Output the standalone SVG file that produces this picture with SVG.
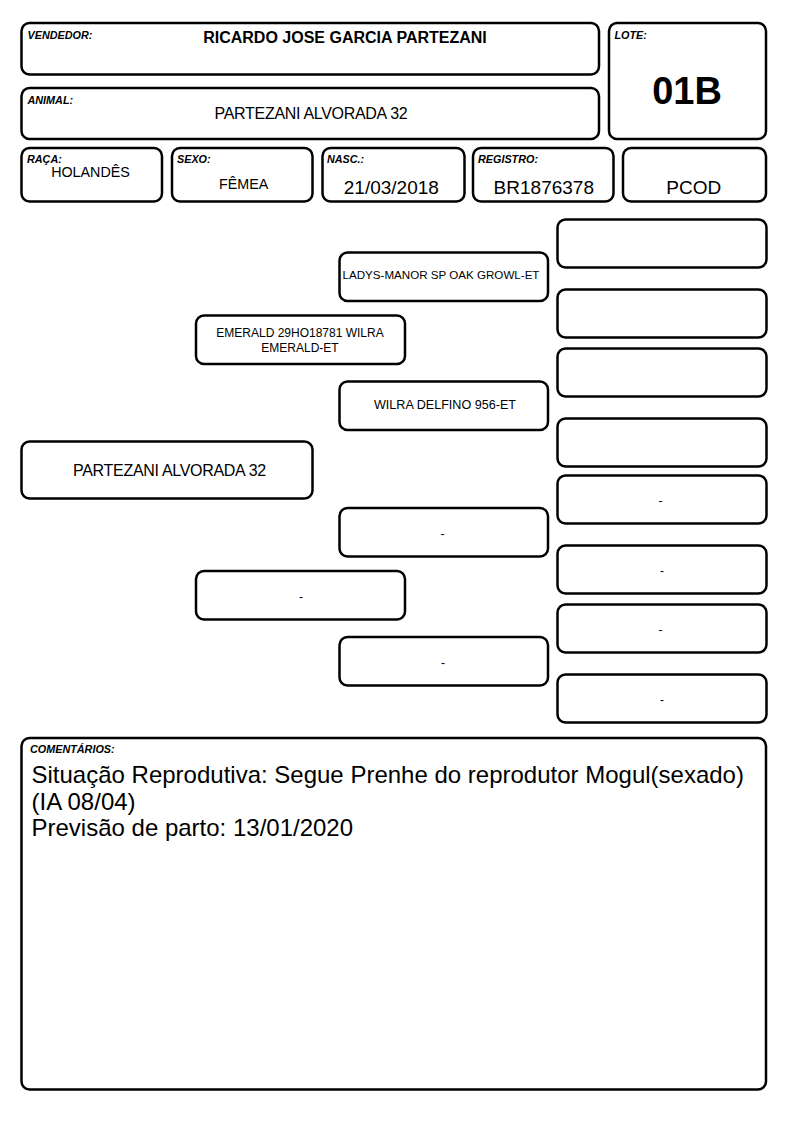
<svg xmlns="http://www.w3.org/2000/svg" width="794" height="1123" viewBox="0 0 794 1123">
<style>
rect.b{fill:#fff;stroke:#000;stroke-width:2.5}
text{font-family:"Liberation Sans",Arial,sans-serif;fill:#000}
.lbl{font-size:10.8px;font-weight:bold;font-style:italic}
.c{text-anchor:middle}
.p{font-size:12px}
.d{font-size:12px;text-anchor:middle}
.v{font-size:19px;text-anchor:middle}
</style>
<rect x="0" y="0" width="794" height="1123" fill="#fff"/>
<g id="vendedor">
<rect class="b" x="21.5" y="23" width="577.5" height="51.5" rx="8"/>
<text class="lbl" x="27.5" y="39">VENDEDOR:</text>
<text class="c" x="345" y="43.3" font-size="16" font-weight="bold">RICARDO JOSE GARCIA PARTEZANI</text>
</g>
<g id="animal">
<rect class="b" x="21.5" y="88" width="577.5" height="51" rx="8"/>
<text class="lbl" x="27.5" y="104">ANIMAL:</text>
<text class="c" x="311" y="119.3" font-size="16" letter-spacing="-0.3">PARTEZANI ALVORADA 32</text>
</g>
<g id="lote">
<rect class="b" x="609" y="23" width="157" height="116" rx="8"/>
<text class="lbl" x="614.5" y="39">LOTE:</text>
<text class="c" x="687" y="104.3" font-size="38" font-weight="bold">01B</text>
</g>
<g id="raca">
<rect class="b" x="21.5" y="148" width="140.5" height="53.5" rx="8"/>
<text class="lbl" x="27" y="162.7">RAÇA:</text>
<text class="c" x="90.5" y="177.3" font-size="14.3">HOLANDÊS</text>
</g>
<g id="sexo">
<rect class="b" x="172" y="148" width="140.5" height="53.5" rx="8"/>
<text class="lbl" x="177" y="162.7">SEXO:</text>
<text class="c" x="243.7" y="189" font-size="14.3">FÊMEA</text>
</g>
<g id="nasc">
<rect class="b" x="322.5" y="148" width="142" height="53.5" rx="8"/>
<text class="lbl" x="327" y="162.7">NASC.:</text>
<text class="v" x="391.3" y="194">21/03/2018</text>
</g>
<g id="registro">
<rect class="b" x="473" y="148" width="140.5" height="53.5" rx="8"/>
<text class="lbl" x="478" y="162.7">REGISTRO:</text>
<text class="v" x="543.8" y="194">BR1876378</text>
</g>
<g id="pcod">
<rect class="b" x="623" y="148" width="143" height="53.5" rx="8"/>
<text class="v" x="693.7" y="194">PCOD</text>
</g>
<g id="connectors"></g>
<g id="self">
<rect class="b" x="21.5" y="441.5" width="291" height="57" rx="8"/>
<text class="c" x="169.5" y="475.7" font-size="16" letter-spacing="-0.3">PARTEZANI ALVORADA 32</text>
</g>
<g id="sire">
<rect class="b" x="196" y="315.5" width="209" height="48.5" rx="8"/>
<text class="c p" x="300" y="336.7">EMERALD 29HO18781 WILRA</text>
<text class="c p" x="300" y="351.7">EMERALD-ET</text>
</g>
<g id="dam">
<rect class="b" x="196" y="571" width="209" height="48.5" rx="8"/>
<text class="d" x="301" y="600.5">-</text>
</g>
<g id="sire-sire">
<rect class="b" x="339.5" y="252.5" width="208.5" height="48.5" rx="8"/>
<text class="c" x="441" y="279.3" font-size="11.6">LADYS-MANOR SP OAK GROWL-ET</text>
</g>
<g id="sire-dam">
<rect class="b" x="339.5" y="381.5" width="208.5" height="48.5" rx="8"/>
<text class="c" x="445" y="409.3" font-size="12.6">WILRA DELFINO 956-ET</text>
</g>
<g id="dam-sire">
<rect class="b" x="339.5" y="508" width="208.5" height="48.5" rx="8"/>
<text class="d" x="442.5" y="537.5">-</text>
</g>
<g id="dam-dam">
<rect class="b" x="339.5" y="637" width="208.5" height="48.5" rx="8"/>
<text class="d" x="443" y="666.5">-</text>
</g>
<g id="ss-sire">
<rect class="b" x="557.5" y="219.5" width="209" height="48" rx="8"/>
</g>
<g id="ss-dam">
<rect class="b" x="557.5" y="289.5" width="209" height="48" rx="8"/>
</g>
<g id="sd-sire">
<rect class="b" x="557.5" y="348.5" width="209" height="48" rx="8"/>
</g>
<g id="sd-dam">
<rect class="b" x="557.5" y="418.5" width="209" height="48" rx="8"/>
</g>
<g id="ds-sire">
<rect class="b" x="557.5" y="475.5" width="209" height="48" rx="8"/>
<text class="d" x="660.5" y="504.5">-</text>
</g>
<g id="ds-dam">
<rect class="b" x="557.5" y="545.5" width="209" height="48" rx="8"/>
<text class="d" x="662" y="574.5">-</text>
</g>
<g id="dd-sire">
<rect class="b" x="557.5" y="604.5" width="209" height="48" rx="8"/>
<text class="d" x="660.5" y="633.5">-</text>
</g>
<g id="dd-dam">
<rect class="b" x="557.5" y="674.5" width="209" height="48" rx="8"/>
<text class="d" x="662" y="704">-</text>
</g>
<g id="comentarios">
<rect class="b" x="21.5" y="738" width="744.5" height="351.5" rx="8"/>
<text class="lbl" x="30" y="752.7">COMENTÁRIOS:</text>
<text font-size="24" x="31.5" y="783.3">Situação Reprodutiva: Segue Prenhe do reprodutor Mogul(sexado)</text>
<text font-size="24" x="31.5" y="809.5">(IA 08/04)</text>
<text font-size="24" x="31.5" y="835.5">Previsão de parto: 13/01/2020</text>
</g>
</svg>
